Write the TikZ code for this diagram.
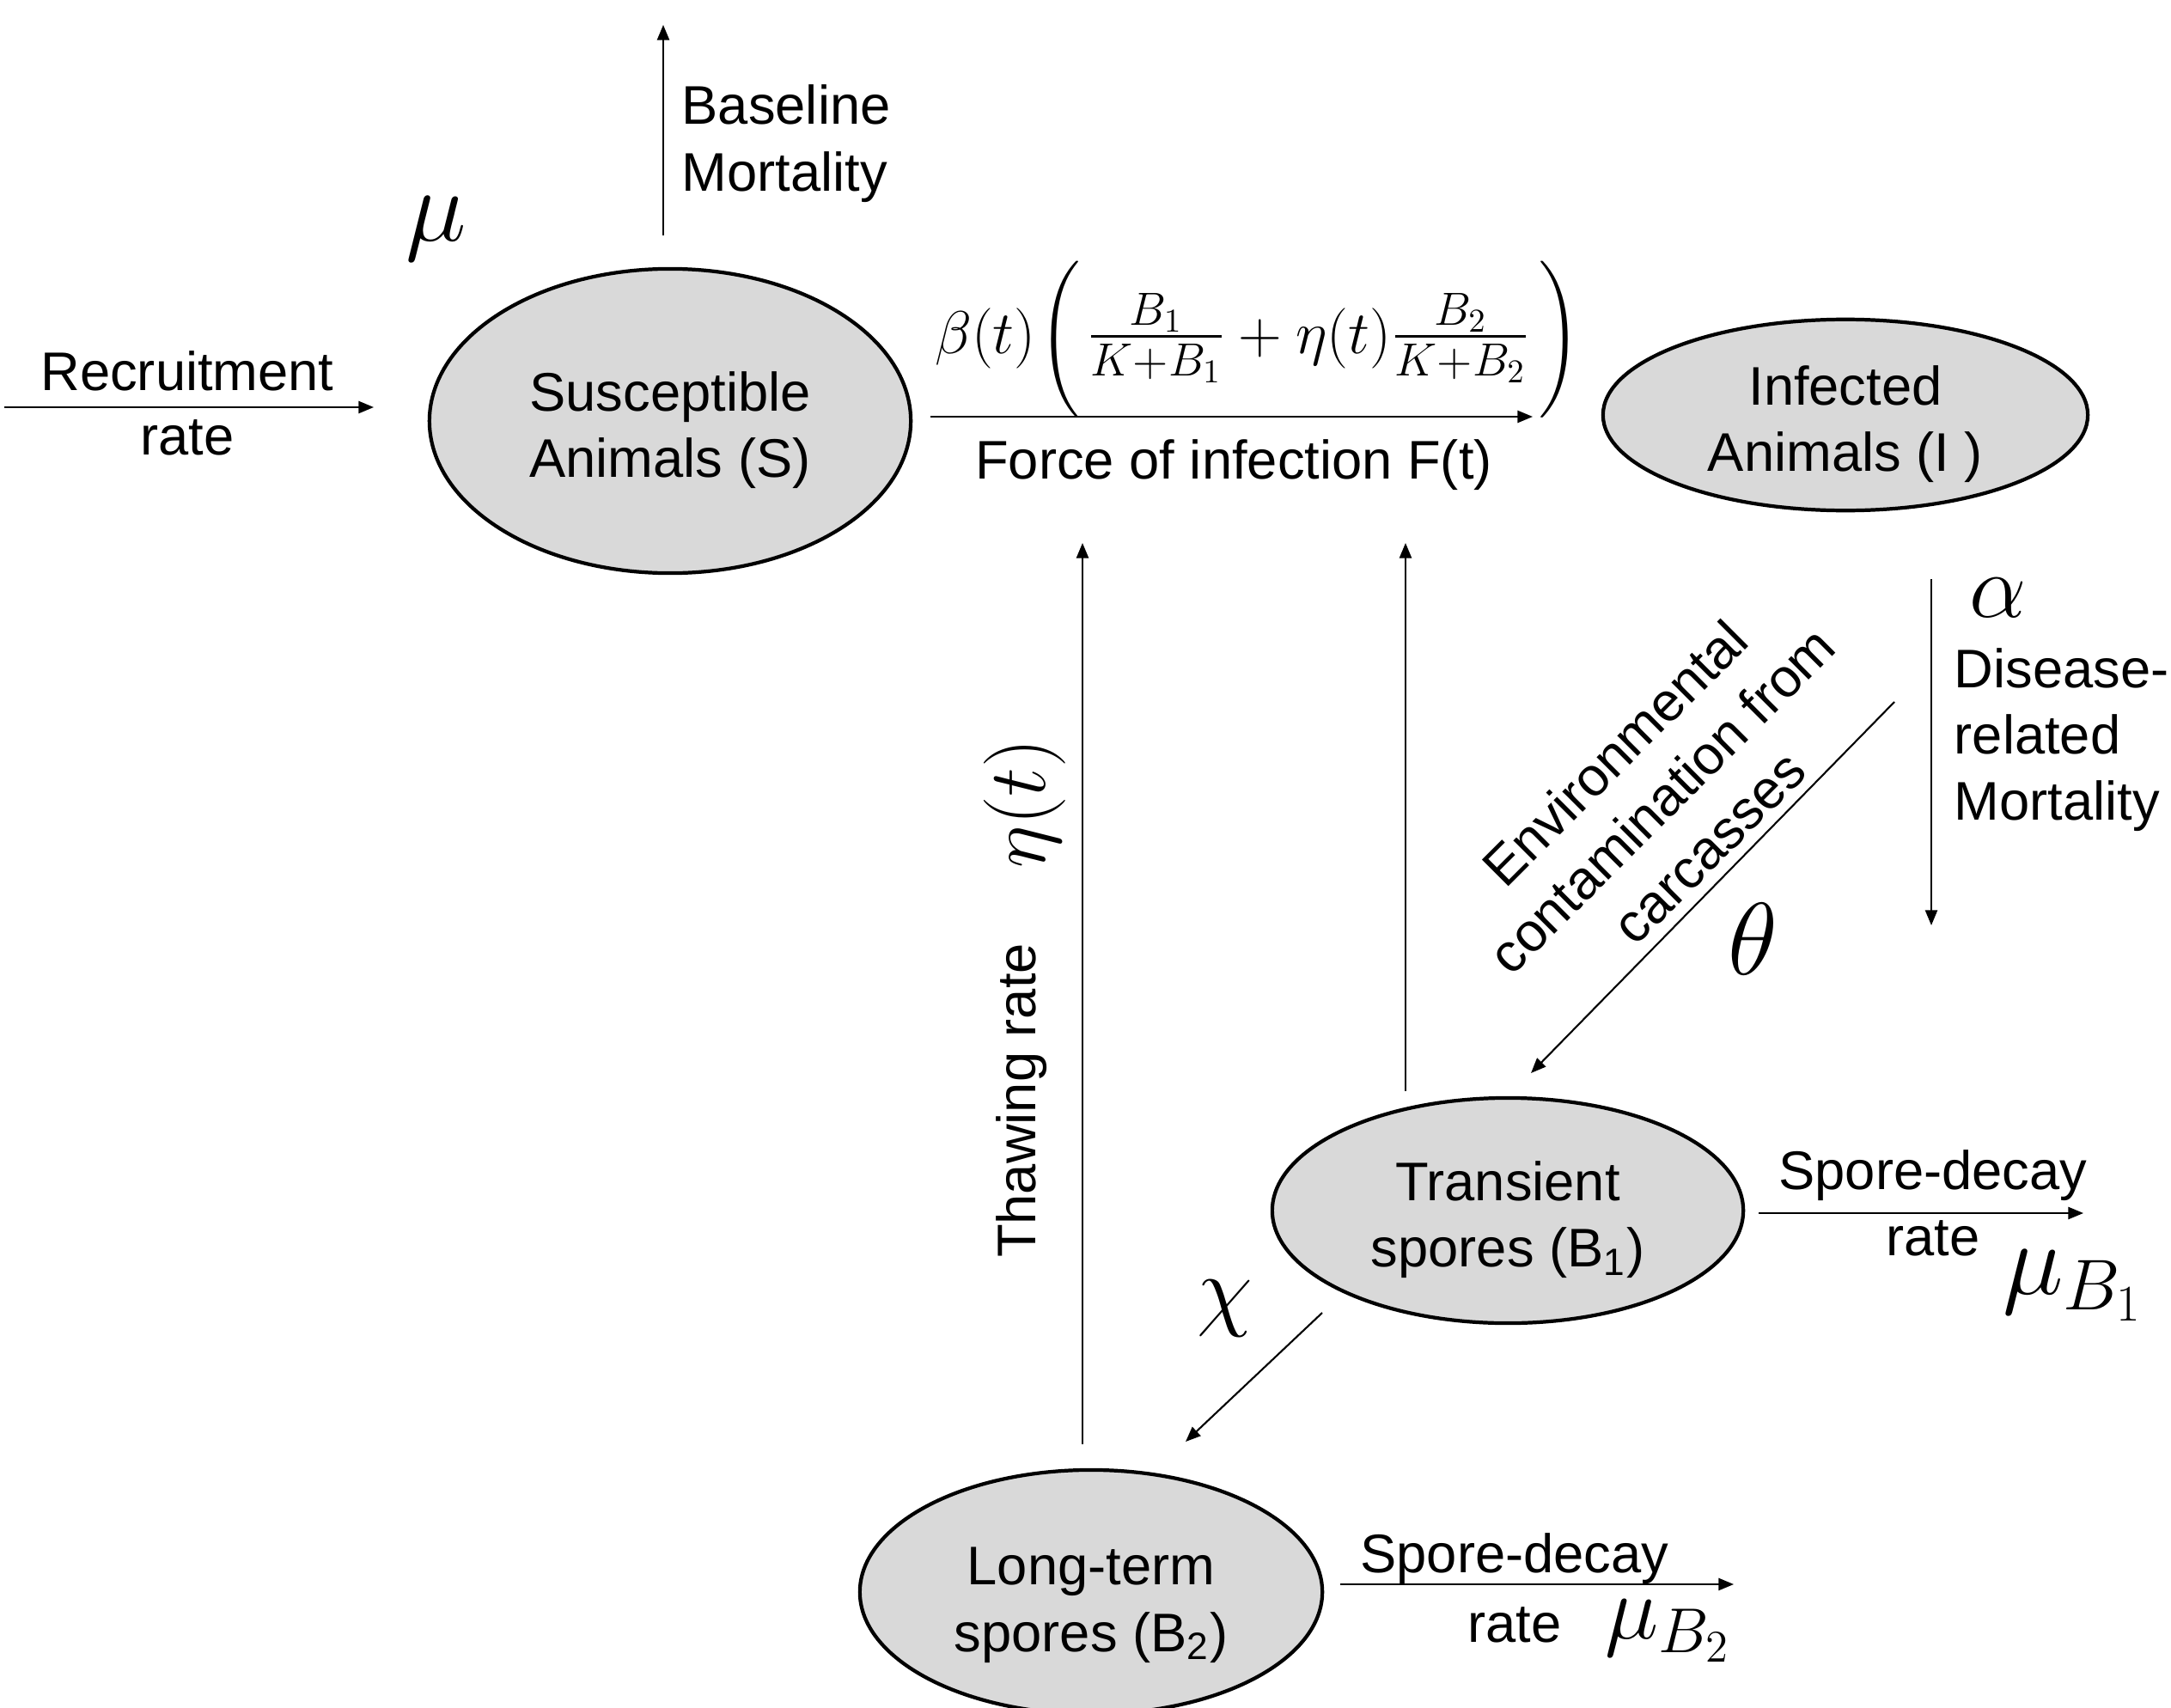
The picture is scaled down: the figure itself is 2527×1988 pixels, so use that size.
\RequirePackage{fix-cm}
\documentclass[tikz,border=0pt]{standalone}
\usepackage{amsmath}
\usepackage[no-math]{fontspec}
\setmainfont{Liberation Sans}
\usetikzlibrary{shapes.geometric,arrows.meta}
\newcommand{\topstrut}{\rule{0pt}{19pt}}
\newcommand{\myLpar}{{\fontsize{18.3}{22}\selectfont$\left(\vcenter{\hrule height 52pt width 0pt}\right.$}}
\newcommand{\myRpar}{{\fontsize{18.3}{22}\selectfont$\left.\vcenter{\hrule height 52pt width 0pt}\right)$}}
\begin{document}
\begin{tikzpicture}[x=0.01cm,y=-0.01cm,
  comp/.style={ellipse,draw=black,line width=1.2pt,fill=grayfill,inner sep=0pt,align=center,
    font=\fontsize{18}{22}\selectfont},
  lbl/.style={inner sep=0pt,font=\fontsize{18}{22}\selectfont},
  arr/.style={-{Triangle[length=5pt,width=4pt]},line width=0.6pt},
  sym/.style={inner sep=0pt}]
\definecolor{grayfill}{HTML}{D9D9D9}
\useasboundingbox (0,0) rectangle (2527,1988);

% compartments
\node[comp,minimum width=5.60cm,minimum height=3.54cm] (S) at (780,490) {\topstrut Susceptible\\Animals (S)};
\node[comp,minimum width=5.64cm,minimum height=2.06cm] (I) at (2148,483) {\topstrut Infected\\Animals (I )};
\node[comp,minimum width=5.48cm,minimum height=2.62cm] (T) at (1755,1409) {\topstrut Transient\\spores (B\textsubscript{1})};
\node[comp,minimum width=5.38cm,minimum height=2.84cm] (L) at (1270,1853) {\rule{0pt}{21pt}Long-term\\spores (B\textsubscript{2})};

% connector end points
\coordinate (recA) at (5,474);
\coordinate (recB) at (435,474);
\coordinate (baseA) at (772,274);
\coordinate (baseB) at (772,29);
\coordinate (foiA) at (1083,485);
\coordinate (foiB) at (1784,485);
\coordinate (disA) at (2248,674);
\coordinate (disB) at (2248,1077);
\coordinate (envA) at (2205,817);
\coordinate (envB) at (1782,1249);
\coordinate (thawA) at (1260,1681);
\coordinate (thawB) at (1260,632);
\coordinate (tfA) at (1636,1270);
\coordinate (tfB) at (1636,632);
\coordinate (sdA) at (2047,1412);
\coordinate (sdB) at (2425,1412);
\coordinate (chiA) at (1539,1528);
\coordinate (chiB) at (1380,1678);
\coordinate (sdC) at (1560,1844);
\coordinate (sdD) at (2018,1844);

% connectors
\draw[arr] (recA) -- (recB);
\draw[arr] (baseA) -- (baseB);
\draw[arr] (foiA) -- (foiB);
\draw[arr] (disA) -- (disB);
\draw[arr] (envA) -- (envB);
\draw[arr] (thawA) -- (thawB);
\draw[arr] (tfA) -- (tfB);
\draw[arr] (sdA) -- (sdB);
\draw[arr] (chiA) -- (chiB);
\draw[arr] (sdC) -- (sdD);

% labels
\node[lbl] (rec1) at (218,432) {Recruitment};
\node[lbl] (rec2) at (218,509) {rate};
\node[lbl,anchor=west,align=left] (basel) at (793,167) {Baseline\\Mortality};
\node[sym,font=\fontsize{34}{40}\selectfont] (mu) at (508,266) {$\mu$};

\node[sym,font=\fontsize{20}{24}\selectfont] (foi) at (1464,395)
  {$\beta(t)$\kern1pt\myLpar\kern1pt$\scalebox{1.1}{$\frac{B_1}{K+B_1}$}+\eta(t)\scalebox{1.1}{$\frac{B_2}{K+B_2}$}$\kern2pt\myRpar};
\node[lbl] (foil) at (1436,541) {Force of infection F(t)};

\node[sym,font=\fontsize{30}{36}\selectfont] (alpha) at (2326,696) {$\alpha$};
\node[lbl,anchor=west,align=left] (disl) at (2274,861) {Disease-\\related\\Mortality};

\node[lbl,align=center,rotate=45] (envl) at (1934,931) {Environmental\\contamination from\\carcasses};
\node[sym,font=\fontsize{34}{40}\selectfont] (theta) at (2040,1093) {$\theta$};

\node[lbl,rotate=90] (thawl) at (1189,1281) {Thawing rate};
\node[sym,rotate=90,font=\fontsize{27}{32}\selectfont] (eta) at (1193,935) {$\eta(t)$};

\node[lbl] (sd1) at (2250,1368) {Spore-decay};
\node[lbl] (sd1r) at (2250,1441) {rate};
\node[sym,font=\fontsize{34}{40}\selectfont] (muB1) at (2413,1496) {$\mu_{B_1}$};

\node[sym,font=\fontsize{30}{36}\selectfont] (chi) at (1426,1523) {$\chi$};

\node[lbl] (sd2) at (1763,1814) {Spore-decay};
\node[lbl] (sd2r) at (1763,1891) {rate};
\node[sym,font=\fontsize{30}{36}\selectfont] (muB2) at (1942,1898) {$\mu_{B_2}$};
\end{tikzpicture}
\end{document}
